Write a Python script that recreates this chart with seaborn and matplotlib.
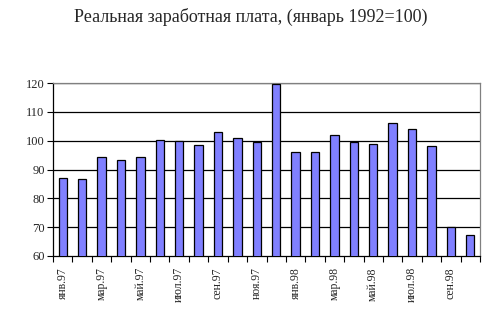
import matplotlib
matplotlib.use("Agg")
import matplotlib.pyplot as plt
import seaborn as sns
import pandas as pd
import numpy as np

months = ["янв.97", "фев.97", "мар.97", "апр.97", "май.97", "июн.97", "июл.97", "авг.97",
          "сен.97", "окт.97", "ноя.97", "дек.97", "янв.98", "фев.98", "мар.98", "апр.98",
          "май.98", "июн.98", "июл.98", "авг.98", "сен.98", "окт.98"]
values = [87.1, 86.8, 94.2, 93.2, 94.2, 100.2, 99.9, 98.5, 102.9, 101.0, 99.6,
          119.8, 96.2, 95.9, 101.8, 99.5, 99.0, 106.0, 104.0, 98.1, 70.0, 67.2]
yticks = [60, 70, 80, 90, 100, 110, 120]
title = "Реальная заработная плата, (январь 1992=100)"

sns.set_theme(style="white")
plt.rcParams['font.family'] = ['Liberation Serif', 'DejaVu Serif']

df = pd.DataFrame({"month": months, "value": values})

fig = plt.figure(figsize=(5.01, 3.13), dpi=100)
ax = fig.add_axes([53/501, 1-256/313, (480-53)/501, (256-83)/313])

sns.barplot(data=df, x="month", y="value", ax=ax, color="#8080FF",
            saturation=1, width=0.43, edgecolor="black", linewidth=0.9, zorder=3)

ax.set_ylim(60, 120)
ax.set_xlim(-0.5, len(months) - 0.5)
ax.set_yticks(yticks)
ax.set_yticklabels([str(v) for v in yticks], fontsize=9)
for v in yticks[1:]:
    ax.axhline(v, color="black", linewidth=0.9, zorder=1)

n = len(months)
ax.set_xticks(np.arange(n), minor=False)
ax.set_xticklabels([m if i % 2 == 0 else "" for i, m in enumerate(months)],
                   rotation=90, fontsize=8.5, va="top")
ax.set_xticks(np.arange(n + 1) - 0.5, minor=True)
ax.tick_params(axis="x", which="major", length=0, pad=8)
ax.tick_params(axis="x", which="minor", length=4, width=0.8, color="black", direction="out")
ax.tick_params(axis="y", length=4, width=0.8, color="black", direction="out", pad=2)
ax.xaxis.set_tick_params(bottom=True, which="minor")
ax.yaxis.set_tick_params(left=True)

ax.set_xlabel("")
ax.set_ylabel("")
for side in ["left", "bottom"]:
    ax.spines[side].set_color("black")
    ax.spines[side].set_linewidth(0.9)
for side in ["top", "right"]:
    ax.spines[side].set_color("#808080")
    ax.spines[side].set_linewidth(0.9)
ax.grid(False)

fig.text(0.5, 1 - 17/313, title, ha="center", va="center", fontsize=13)

fig.savefig("out.png", dpi=100, facecolor="white")
